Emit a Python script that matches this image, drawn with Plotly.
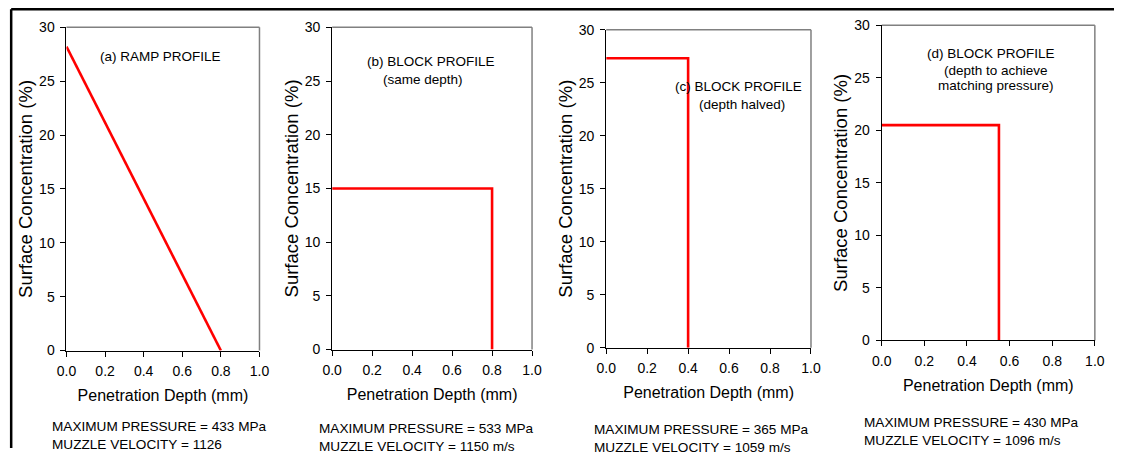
import plotly.graph_objects as go

# The page body keeps its default 8px margin, so the figure is 16px smaller
# than the window and every page coordinate is shifted by OFF.
PAGE_W, PAGE_H = 1140, 472
OFF = 8
W, H = PAGE_W - 2 * OFF, PAGE_H - 2 * OFF

# ---- data ----
depth_a = [0.0, 0.8]
conc_a = [28.2, 0.0]
depth_b = [0.0, 0.8, 0.8]
conc_b = [15.0, 15.0, 0.0]
depth_c = [0.0, 0.4, 0.4]
conc_c = [27.3, 27.3, 0.0]
depth_d = [0.0, 0.55, 0.55]
conc_d = [20.5, 20.5, 0.0]

x_ticks = [0.0, 0.2, 0.4, 0.6, 0.8, 1.0]
y_ticks = [0, 5, 10, 15, 20, 25, 30]
x_title = "Penetration Depth (mm)"
y_title = "Surface Concentration (%)"

panel_labels = [
    ["(a) RAMP PROFILE"],
    ["(b) BLOCK PROFILE", "(same depth)"],
    ["(c) BLOCK PROFILE", "(depth halved)"],
    ["(d) BLOCK PROFILE", "(depth to achieve", "matching pressure)"],
]
bottom_texts = [
    ["MAXIMUM PRESSURE = 433 MPa", "MUZZLE VELOCITY = 1126"],
    ["MAXIMUM PRESSURE = 533 MPa", "MUZZLE VELOCITY = 1150 m/s"],
    ["MAXIMUM PRESSURE = 365 MPa", "MUZZLE VELOCITY = 1059 m/s"],
    ["MAXIMUM PRESSURE = 430 MPa", "MUZZLE VELOCITY = 1096 m/s"],
]
series = [(depth_a, conc_a), (depth_b, conc_b), (depth_c, conc_c), (depth_d, conc_d)]

# ---- layout (page pixel geometry) ----
boxes = [  # left, right, top, bottom in px
    (65.5, 262.0, 28.0, 363.0),
    (336.0, 539.5, 28.0, 362.0),
    (615.0, 823.5, 30.5, 360.0),
    (895.5, 1112.5, 26.0, 352.5),
]
label_pos = [  # (center x, center y) per line
    [(161, 58)],
    [(437, 63), (428, 82)],
    [(750, 89), (753, 108)],
    [(1007, 55), (1012, 72.5), (1012, 88.5)],
]
bottom_pos = [(49, 441), (321, 443), (601, 444), (875, 437)]

FONT = "Arial, Liberation Sans, sans-serif"

def px(x):
    return (x - OFF) / W

def py(y):
    return 1 - (y - OFF) / H

fig = go.Figure()
shapes = []
annotations = []
for i, ((xs, ys), (l, r, t, b)) in enumerate(zip(series, boxes)):
    n = "" if i == 0 else str(i + 1)
    fig.add_trace(go.Scatter(x=xs, y=ys, mode="lines",
                             line=dict(color="#ff0000", width=2.6),
                             xaxis="x" + n, yaxis="y" + n, showlegend=False,
                             cliponaxis=False))
    fig.update_layout(**{
        "xaxis" + n: dict(domain=[px(l), px(r)], anchor="y" + n, range=[0, 1],
                          tickvals=x_ticks, tickformat=".1f", ticks="outside",
                          ticklen=5, tickcolor="black", showline=True,
                          linecolor="black", linewidth=1, showgrid=False,
                          zeroline=False, ticklabelstandoff=3,
                          tickfont=dict(size=14, color="black", family=FONT),
                          title=dict(text=x_title, font=dict(size=16, color="black", family=FONT),
                                     standoff=11)),
        "yaxis" + n: dict(domain=[py(b), py(t)], anchor="x" + n, range=[0, 30],
                          tickvals=y_ticks, ticks="outside", ticklen=5,
                          tickcolor="black", showline=True, linecolor="black",
                          linewidth=1, showgrid=False, zeroline=False,
                          ticklabelstandoff=3,
                          tickfont=dict(size=14, color="black", family=FONT),
                          title=dict(text=y_title, font=dict(size=18.5, color="black", family=FONT),
                                     standoff=1)),
    })
    xr = "x" + n + " domain"
    yr = "y" + n + " domain"
    shapes.append(dict(type="line", xref=xr, yref=yr, x0=0, x1=1, y0=1, y1=1,
                       line=dict(color="#808080", width=1.5), layer="below"))
    shapes.append(dict(type="line", xref=xr, yref=yr, x0=1, x1=1, y0=0, y1=1,
                       line=dict(color="#808080", width=1.5), layer="below"))
    for txt, (cx, cy) in zip(panel_labels[i], label_pos[i]):
        annotations.append(dict(text=txt, xref="paper", yref="paper", x=px(cx), y=py(cy),
                                xanchor="center", yanchor="middle", showarrow=False,
                                font=dict(size=13.5, color="black", family=FONT)))
    bx, by = bottom_pos[i]
    annotations.append(dict(text="<br>".join(bottom_texts[i]), xref="paper", yref="paper",
                            x=px(bx), y=py(by - 9), xanchor="left", yanchor="top",
                            align="left", showarrow=False,
                            font=dict(size=13.6, color="black", family=FONT)))

# outer frame (top and left)
shapes.append(dict(type="line", xref="paper", yref="paper", x0=px(9.2), x1=1, y0=py(9.2), y1=py(9.2),
                   line=dict(color="black", width=2.5)))
shapes.append(dict(type="line", xref="paper", yref="paper", x0=px(9.2), x1=px(9.2), y0=py(9.2), y1=0,
                   line=dict(color="black", width=2.5)))

fig.update_layout(width=W, height=H, margin=dict(l=0, r=0, t=0, b=0),
                  paper_bgcolor="white", plot_bgcolor="white",
                  shapes=shapes, annotations=annotations,
                  font=dict(family=FONT, color="black"))
fig.write_html("out.html")
